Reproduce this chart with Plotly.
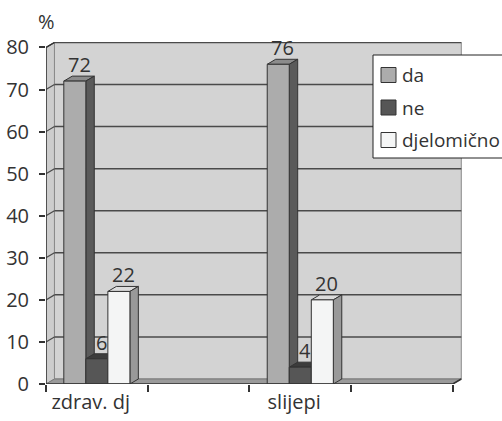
import plotly.graph_objects as go

# data
categories = ["zdrav. dj", "slijepi"]
cat_pos = [0, 2]          # axis has 4 slots, the 2nd and 4th are empty
series = ["da", "ne", "djelomično"]
values_da = [72, 76]
values_ne = [6, 4]
values_djel = [22, 20]
y_ticks = [0, 10, 20, 30, 40, 50, 60, 70, 80]

values = [values_da, values_ne, values_djel]

# face colours: front, top, side
front = ["#acacac", "#565656", "#f4f5f5"]
top = ["#8c8c8c", "#3c3c3c", "#dcdcdc"]
side = ["#5a5a5a", "#333333", "#999999"]

DX, DY = 0.083, 1.19      # depth of the fake 3d, in axis units
BAR_W = 0.65 / 3
X0, X1 = -0.5, 3.5
LINE = "#333333"
FONT = "Open Sans"
FS = 20

W, H = 502, 421
ML, MR, MT, MB = 46, 40, 42, 37

def px(x):   # figure pixel -> paper x
    return (x - ML) / (W - ML - MR)

def py(y):   # figure pixel -> paper y
    return (H - MB - y) / (H - MT - MB)

fig = go.Figure()
shapes = []

def poly(pts, fill, line_color=LINE, width=1, layer="below"):
    path = "M " + " L ".join(f"{x},{y}" for x, y in pts) + " Z"
    shapes.append(dict(type="path", path=path, xref="x", yref="y",
                       fillcolor=fill, line=dict(color=line_color, width=width),
                       layer=layer))

def seg(a, b, color=LINE, width=1.5, layer="below"):
    shapes.append(dict(type="line", xref="x", yref="y", x0=a[0], y0=a[1],
                       x1=b[0], y1=b[1], line=dict(color=color, width=width),
                       layer=layer))

top_v = y_ticks[-1]
# walls and floor
poly([(X0 + DX, DY), (X1 + DX, DY), (X1 + DX, top_v + DY), (X0 + DX, top_v + DY)],
     "#d3d3d3", "#8a8a8a")
poly([(X0, 0), (X0 + DX, DY), (X0 + DX, top_v + DY), (X0, top_v)], "#cdcdcd", "#8a8a8a")
poly([(X0, 0), (X1, 0), (X1 + DX, DY), (X0 + DX, DY)], "#9a9a9a", "#7a7a7a")

# gridlines on the back wall
for t in y_ticks[1:]:
    seg((X0 + DX, t + DY), (X1 + DX, t + DY), "#4a4a4a", 1.5)
    seg((X0, t), (X0 + DX, t + DY), "#4a4a4a", 1.2)

# bars: front face is a real bar trace, top and side are shapes behind
for i, name in enumerate(series):
    off = (i - 1) * BAR_W - BAR_W / 2
    for j, xc in enumerate(cat_pos):
        v = values[i][j]
        a = xc + off
        b = a + BAR_W
        poly([(a, v), (a + DX, v + DY), (b + DX, v + DY), (b, v)], top[i])
        poly([(b, 0), (b, v), (b + DX, v + DY), (b + DX, DY)], side[i])
    fig.add_trace(go.Bar(x=cat_pos, y=values[i], name=name, width=BAR_W, offset=off,
                         marker=dict(color=front[i], line=dict(color=LINE, width=1)),
                         showlegend=False, hoverinfo="y"))

# axis lines
seg((X0, 0), (X0, top_v), LINE, 1.5, "above")
seg((X0, 0), (X1, 0), LINE, 1.5, "above")
seg((X1, 0), (X1 + DX, DY), LINE, 1.5, "above")
seg((X0, top_v), (X0 + DX, top_v + DY), LINE, 1.2, "above")

# value labels
annotations = []
for i, name in enumerate(series):
    off = (i - 1) * BAR_W - BAR_W / 2
    for j, xc in enumerate(cat_pos):
        v = values[i][j]
        annotations.append(dict(x=xc + off + BAR_W / 2 + DX / 2, y=v + DY, text=str(v),
                                showarrow=False, yanchor="bottom", yshift=-4,
                                font=dict(size=FS, color="#333333", family=FONT)))
annotations.append(dict(x=px(46), y=py(22), xref="paper", yref="paper", text="%",
                        showarrow=False, xanchor="center", yanchor="middle",
                        font=dict(size=FS, color="#333333", family=FONT)))

# legend box (runs off the right edge, like the original)
shapes.append(dict(type="rect", xref="paper", yref="paper", layer="above",
                   x0=px(373), x1=px(530), y0=py(158), y1=py(55),
                   fillcolor="white", line=dict(color="#222222", width=1)))
for i, name in enumerate(series):
    cy = 75 + i * 32.5
    shapes.append(dict(type="rect", xref="paper", yref="paper", layer="above",
                       x0=px(381), x1=px(396), y0=py(cy + 7.5), y1=py(cy - 7.5),
                       fillcolor=front[i], line=dict(color=LINE, width=1)))
    annotations.append(dict(x=px(400), y=py(cy), xref="paper", yref="paper", text=name,
                            showarrow=False, xanchor="left", yanchor="middle",
                            font=dict(size=FS - 1, color="#333333", family=FONT)))

fig.update_layout(
    width=W, height=H,
    margin=dict(l=ML, r=MR, t=MT, b=MB),
    paper_bgcolor="white", plot_bgcolor="white",
    barmode="overlay", showlegend=False,
    font=dict(family=FONT, size=FS, color="#333333"),
    shapes=shapes, annotations=annotations,
    xaxis=dict(range=[X0, 3.59], tickvals=[c - 0.06 for c in cat_pos], ticktext=categories,
               ticks="", showgrid=False, zeroline=False, showline=False, automargin=False,
               minor=dict(tickvals=[-0.5, 0.5, 1.5, 2.5, 3.5], ticks="outside",
                          ticklen=7, tickwidth=1.5, tickcolor=LINE, showgrid=False),
               ticklabelstandoff=4, tickfont=dict(size=FS)),
    yaxis=dict(range=[0, 81.3], tickvals=y_ticks, ticks="outside", ticklen=6,
               tickwidth=1.5, tickcolor=LINE, showgrid=False, zeroline=False,
               showline=False, automargin=False, ticklabelstandoff=6,
               tickfont=dict(size=FS)),
)

# the page's default body margin would push the figure 8px off
fig.write_html("out.html", config={"displayModeBar": False},
               post_script="document.body.style.margin = '0';")
